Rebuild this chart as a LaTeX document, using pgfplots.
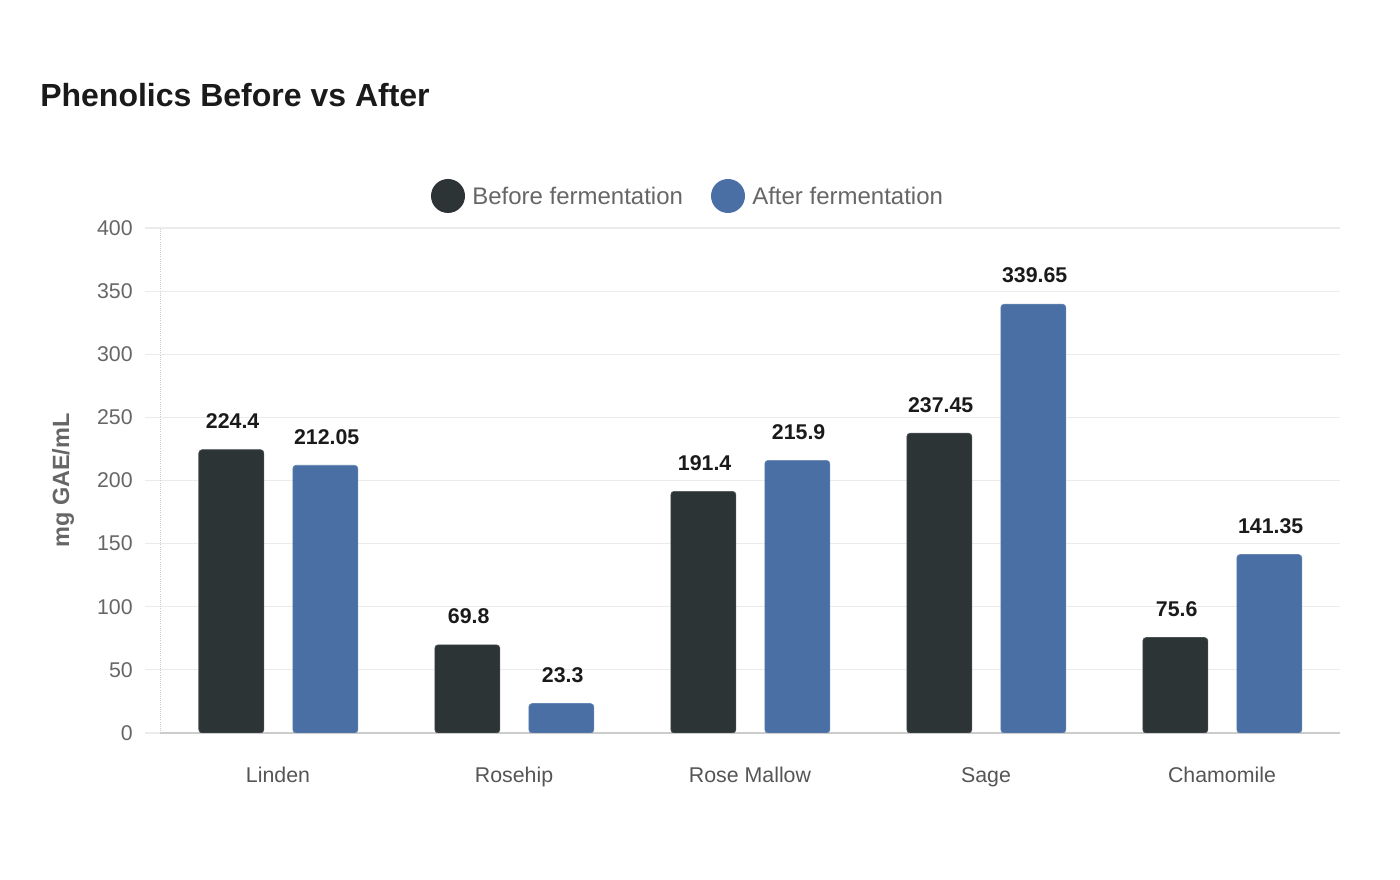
\documentclass[border=0pt]{standalone}
\usepackage{fontspec}
\setmainfont{Liberation Sans}
\usepackage{pgfplots}
\pgfplotsset{compat=1.18}
\definecolor{before}{HTML}{2D3436}
\definecolor{after}{HTML}{4A6FA5}
\definecolor{gridc}{HTML}{EBEBEB}
\definecolor{basec}{HTML}{CCCCCC}
\definecolor{tickc}{HTML}{666666}
\definecolor{catc}{HTML}{555555}
\definecolor{titlec}{HTML}{1A1A1A}

\begin{document}
\begin{tikzpicture}
\useasboundingbox (0,0) rectangle (1050pt,660pt);
% title
\node[anchor=base west, inner sep=0pt, font=\fontsize{24}{28}\selectfont\bfseries, text=titlec]
  at (30pt,580.1pt) {Phenolics Before vs After};
% legend
\fill[before] (336pt,513pt) circle (12.75pt);
\node[anchor=base west, inner sep=0pt, font=\fontsize{18}{22}\selectfont, text=tickc]
  at (354pt,506.25pt) {Before fermentation};
\fill[after] (546pt,513pt) circle (12.75pt);
\node[anchor=base west, inner sep=0pt, font=\fontsize{18}{22}\selectfont, text=tickc]
  at (564pt,506.25pt) {After fermentation};
% y axis title
\node[rotate=90, inner sep=0pt, font=\fontsize{17.6}{20}\selectfont\bfseries, text=tickc]
  at (47.25pt,299.6pt) {mg GAE/mL};

\begin{axis}[
  at={(120pt,110.25pt)}, anchor=south west,
  width=885pt, height=378.75pt, scale only axis,
  xmin=-0.5, xmax=4.5, ymin=0, ymax=400,
  ytick={0,50,...,400},
  xtick={0,...,4},
  xticklabels={Linden,Rosehip,Rose Mallow,Sage,Chamomile},
  axis x line*=bottom, axis y line*=left,
  axis line style={-},
  x axis line style={basec, line width=1.1pt},
  y axis line style={basec, densely dotted, line width=0.6pt},
  ymajorgrids, grid style={gridc, line width=0.9pt},
  tick align=outside,
  major tick length=11.25pt,
  ytick style={gridc, line width=0.9pt},
  xtick style={draw=none},
  /pgf/number format/assume math mode=true,
  yticklabel style={font=\fontsize{16}{18}\selectfont, text=tickc, inner sep=0pt, xshift=-9pt},
  xticklabel style={font=\fontsize{16}{18}\selectfont, text=catc, anchor=base, yshift=-26.25pt},
  ybar, bar width=48.75pt,
  nodes near coords, point meta=explicit symbolic,
  nodes near coords style={font=\fontsize{16}{18}\selectfont\bfseries, text=titlec,
    anchor=base, inner sep=0pt, yshift=15.9pt, xshift=1pt},
]
% before fermentation
\addplot[fill=before, draw=before!85!white, line width=0.5pt, rounded corners=2.5pt, bar shift=-35pt]
  coordinates {(0,224.4) [224.4] (1,69.8) [69.8] (2,191.4) [191.4] (3,237.45) [237.45] (4,75.6) [75.6]};
% after fermentation
\addplot[fill=after, draw=after!85!white, line width=0.5pt, rounded corners=2.5pt, bar shift=35.5pt]
  coordinates {(0,212.05) [212.05] (1,23.3) [23.3] (2,215.9) [215.9] (3,339.65) [339.65] (4,141.35) [141.35]};
\end{axis}
\end{tikzpicture}
\end{document}
